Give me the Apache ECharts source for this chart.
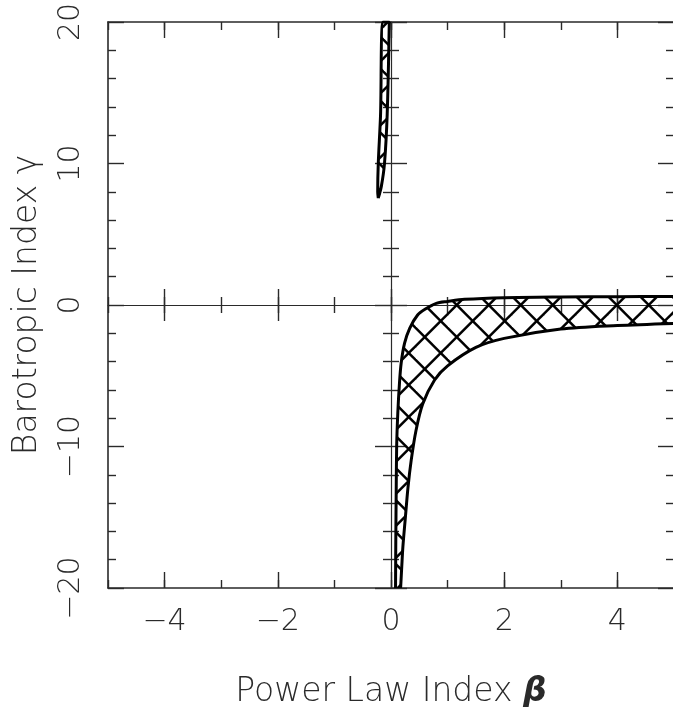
<!DOCTYPE html>
<html>
<head>
<meta charset="utf-8">
<script src="https://cdn.jsdelivr.net/npm/echarts@6/dist/echarts.min.js"></script>
<style>
  html, body { margin: 0; padding: 0; background: #fff; }
  #chart { width: 673px; height: 707px; }
</style>
</head>
<body>
<div id="chart"></div>
<script>
// lower band: upper edge (beta, gamma)
var bandTopBeta  = [0.08, 0.085, 0.092, 0.10, 0.12, 0.15, 0.18, 0.24, 0.33, 0.47, 0.60, 0.80, 1.0, 1.3, 2.0, 3.0, 4.0, 5.0];
var bandTopGamma = [-20, -16.5, -13.1, -10.0, -7.65, -5.5, -4.1, -2.7, -1.65, -0.71, -0.30, 0.12, 0.25, 0.40, 0.52, 0.57, 0.59, 0.60];
// lower band: lower edge
var bandLowBeta  = [0.17, 0.19, 0.21, 0.25, 0.30, 0.356, 0.44, 0.56, 0.77, 1.0, 1.5, 2.0, 3.0, 4.0, 5.0];
var bandLowGamma = [-20, -18.5, -17.1, -15.2, -12.9, -11.0, -8.9, -7.0, -5.3, -4.3, -3.0, -2.36, -1.7, -1.45, -1.3];
// upper sliver: left edge (bottom -> top) then right edge (top -> bottom)
var sliverLeftBeta   = [-0.225, -0.235, -0.225, -0.185, -0.14];
var sliverLeftGamma  = [7.55, 8.0, 10.0, 13.4, 20.0];
var sliverRightBeta  = [-0.03, -0.067, -0.115, -0.17, -0.225];
var sliverRightGamma = [20.0, 13.5, 10.0, 8.4, 7.55];
// ticks
var xMajor = [-4, -2, 0, 2, 4];
var yMajor = [-20, -10, 0, 10, 20];

var ink = '#2a2a2a';
var font = 'DejaVu Sans';

function minus(v) { return v < 0 ? '\u2212' + (-v) : String(v); }

function pairs(xs, ys) { return xs.map(function (x, i) { return [x, ys[i]]; }); }

// crosshatch tile, 32px, lines at +-45deg
var hatch = document.createElement('canvas');
hatch.width = 32; hatch.height = 32;
(function () {
  var c = hatch.getContext('2d');
  c.strokeStyle = '#000';
  c.lineWidth = 2.5;
  var c1 = 8.3, c2 = 25.7;
  for (var k = -2; k <= 2; k++) {
    c.beginPath(); c.moveTo(-8, -8 + c1 + 32 * k); c.lineTo(40, 40 + c1 + 32 * k); c.stroke();
    c.beginPath(); c.moveTo(-8, 8 + c2 + 32 * k); c.lineTo(40, -40 + c2 + 32 * k); c.stroke();
  }
})();

var tickStyle = { color: ink, width: 1.4 };

function xAx(o) {
  return Object.assign({
    type: 'value', min: -5, max: 5, interval: 1, position: 'bottom',
    axisLine: { show: false, onZero: false },
    axisTick: { show: true, inside: true, length: 8, lineStyle: tickStyle },
    axisLabel: { show: false },
    splitLine: { show: false }
  }, o);
}
function yAx(o) {
  return Object.assign({
    type: 'value', min: -20, max: 20, interval: 10, position: 'left',
    axisLine: { show: false, onZero: false },
    axisTick: { show: true, inside: true, length: 16, lineStyle: tickStyle },
    minorTick: { show: true, splitNumber: 5, length: 8, lineStyle: tickStyle },
    axisLabel: { show: false },
    splitLine: { show: false },
    minorSplitLine: { show: false }
  }, o);
}

var chart = echarts.init(document.getElementById('chart'));

chart.setOption({
  animation: false,
  grid: { left: 108, right: -1, top: 22, bottom: 119, outerBoundsMode: 'none' },
  xAxis: [
    xAx({
      axisLine: { show: true, onZero: false, lineStyle: { color: ink, width: 1.6 } },
      axisLabel: {
        show: true, customValues: xMajor, formatter: minus, margin: 19,
        fontSize: 30, fontFamily: font, fontWeight: 200, color: ink
      },
      name: '{t|Power Law Index }{b|\u03b2}', nameLocation: 'middle', nameGap: 88,
      nameTextStyle: {
        rich: {
          t: { fontSize: 33, fontFamily: font, fontWeight: 200, color: ink },
          b: { fontSize: 33, fontFamily: font, fontStyle: 'italic', fontWeight: 'bold', color: ink }
        }
      }
    }),
    xAx({ axisTick: { show: true, inside: true, length: 16, customValues: xMajor, lineStyle: tickStyle } }),
    xAx({ position: 'top', axisLine: { show: true, onZero: false, lineStyle: { color: ink, width: 1.6 } } }),
    xAx({ position: 'top', axisTick: { show: true, inside: true, length: 16, customValues: xMajor, lineStyle: tickStyle } }),
    // zero line gamma = 0, ticks on both sides
    xAx({ axisLine: { show: true, onZero: true, onZeroAxisIndex: 0, lineStyle: { color: ink, width: 1.2 } } }),
    xAx({ axisLine: { show: false, onZero: true, onZeroAxisIndex: 0 },
          axisTick: { show: true, inside: true, length: 16, customValues: xMajor, lineStyle: tickStyle } }),
    xAx({ axisLine: { show: false, onZero: true, onZeroAxisIndex: 0 },
          axisTick: { show: true, inside: false, length: 8, lineStyle: tickStyle } }),
    xAx({ axisLine: { show: false, onZero: true, onZeroAxisIndex: 0 },
          axisTick: { show: true, inside: false, length: 16, customValues: xMajor, lineStyle: tickStyle } })
  ],
  yAxis: [
    yAx({
      axisLine: { show: true, onZero: false, lineStyle: { color: ink, width: 1.6 } },
      axisLabel: {
        show: true, rotate: 90, formatter: minus, margin: 22,
        fontSize: 30, fontFamily: font, fontWeight: 200, color: ink
      },
      name: 'Barotropic Index \u03b3', nameLocation: 'middle', nameRotate: 90, nameGap: 64,
      nameTextStyle: { fontSize: 33, fontFamily: font, fontWeight: 200, color: ink }
    }),
    // right frame sits just past the canvas edge; only its inward ticks show
    yAx({ position: 'right' }),
    // zero line beta = 0
    yAx({ axisLine: { show: true, onZero: true, onZeroAxisIndex: 0, lineStyle: { color: ink, width: 1.2 } } }),
    yAx({ axisLine: { show: false, onZero: true, onZeroAxisIndex: 0 },
          axisTick: { show: true, inside: false, length: 16, lineStyle: tickStyle } ,
          minorTick: { show: true, splitNumber: 5, length: 8, lineStyle: tickStyle } })
  ],
  series: [
    {
      type: 'custom', xAxisIndex: 0, yAxisIndex: 0, clip: true, silent: true,
      data: [[0, 0]],
      renderItem: function (params, api) {
        var pts = [], i;
        for (i = 0; i < bandTopBeta.length; i++) pts.push(api.coord([bandTopBeta[i], bandTopGamma[i]]));
        for (i = bandLowBeta.length - 1; i >= 0; i--) pts.push(api.coord([bandLowBeta[i], bandLowGamma[i]]));
        var sp = [];
        for (i = 0; i < sliverLeftBeta.length; i++) sp.push(api.coord([sliverLeftBeta[i], sliverLeftGamma[i]]));
        for (i = 0; i < sliverRightBeta.length; i++) sp.push(api.coord([sliverRightBeta[i], sliverRightGamma[i]]));
        var fill = { image: hatch, repeat: 'repeat' };
        return {
          type: 'group',
          children: [
            { type: 'polygon', shape: { points: pts }, style: { fill: fill, stroke: null } },
            { type: 'polygon', shape: { points: sp, smooth: 0.3 }, style: { fill: fill, stroke: null } }
          ]
        };
      }
    },
    {
      type: 'line', xAxisIndex: 0, yAxisIndex: 0, symbol: 'none', smooth: 0.3, silent: true,
      data: pairs(bandTopBeta, bandTopGamma),
      lineStyle: { color: '#000', width: 3 }
    },
    {
      type: 'line', xAxisIndex: 0, yAxisIndex: 0, symbol: 'none', smooth: 0.3, silent: true,
      data: pairs(bandLowBeta, bandLowGamma),
      lineStyle: { color: '#000', width: 3 }
    },
    {
      type: 'line', xAxisIndex: 0, yAxisIndex: 0, symbol: 'none', smooth: 0.3, silent: true,
      data: pairs(sliverLeftBeta.concat(sliverRightBeta), sliverLeftGamma.concat(sliverRightGamma)),
      lineStyle: { color: '#000', width: 3 }
    }
  ]
});
</script>
</body>
</html>
